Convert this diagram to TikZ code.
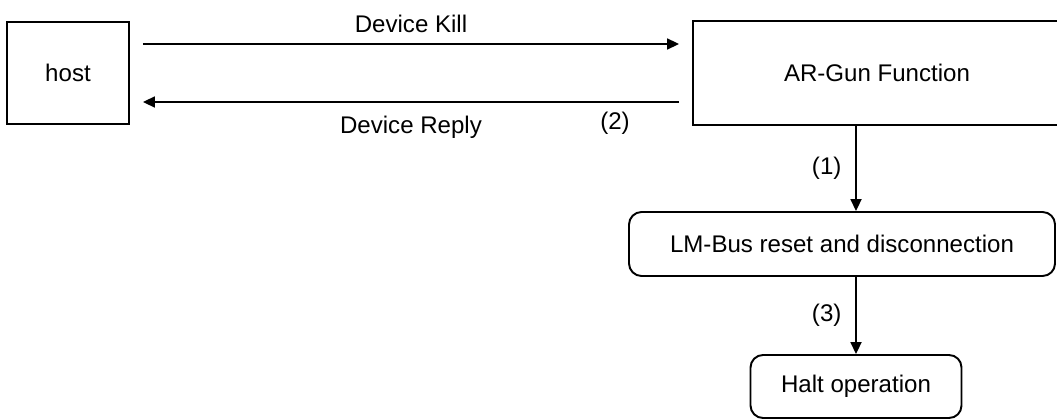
\documentclass[tikz,border=0pt]{standalone}
\usepackage{fontspec}
\setmainfont{Liberation Sans}
\usetikzlibrary{positioning,arrows.meta}
\begin{document}
\begin{tikzpicture}[auto, node distance=3cm, >={Triangle[length=6.8pt,width=6.3pt]},
    font=\fontsize{13.7}{16}\selectfont]
    \tikzstyle{block} = [draw, line width=1.1pt, fill=white, rectangle, inner sep=0pt]
    \tikzstyle{roundblock} = [block, rounded corners=0.25cm]
    \tikzstyle{link} = [->, line width=0.85pt]
    \useasboundingbox (0,0) rectangle (21.14,-8.38);
    \node [block, minimum width=2.44cm, minimum height=2.04cm] (host) at (1.36,-1.46) {host};
    \node [block, right of=host, node distance=16.18cm,
        minimum width=7.36cm, minimum height=2.08cm] (argun) {AR-Gun Function};
    \node [roundblock, below of=argun, node distance=3.42cm, xshift=-0.7cm,
        minimum width=8.52cm, minimum height=1.28cm] (lmbus) {LM-Bus reset and disconnection};
    \node [roundblock, below of=lmbus, node distance=2.85cm, xshift=0.28cm,
        minimum width=4.22cm, minimum height=1.26cm] (halt) {Halt operation};
    \draw [link, shorten <=0.26cm, shorten >=0.26cm] ([yshift=0.58cm]host.east)
        -- node[above=0.1cm] {Device Kill} ([yshift=0.58cm]host.east -| argun.west);
    \draw [link, shorten <=0.26cm, shorten >=0.26cm] ([yshift=-0.58cm]host.east -| argun.west)
        -- node[below=0.15cm] {Device Reply} node[pos=0.137, below=0.07cm] {(2)}
        ([yshift=-0.58cm]host.east);
    \draw [link] (argun.south -| halt) -- node[left=0.16cm] {(1)} (lmbus.north -| halt);
    \draw [link] (lmbus.south -| halt) -- node[left=0.16cm] {(3)} (halt.north);
\end{tikzpicture}
\end{document}
